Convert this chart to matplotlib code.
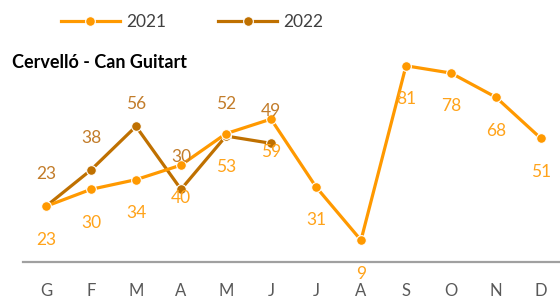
import matplotlib.pyplot as plt

months = ['G', 'F', 'M', 'A', 'M', 'J', 'J', 'A', 'S', 'O', 'N', 'D']
v2021 = [23, 30, 34, 40, 53, 59, 31, 9, 81, 78, 68, 51]
v2022 = [23, 38, 56, 30, 52, 49]

c2021 = '#FF9900'
c2022 = '#BF7000'
t2021 = '#FFA31A'
t2022 = '#C27C2A'

plt.rcParams['font.family'] = ['Lato', 'DejaVu Sans']

fig = plt.figure(figsize=(5.6, 3.0), dpi=100)
ax = fig.add_axes([23 / 560, 38 / 300, 537 / 560, 218 / 300])

x21 = list(range(len(v2021)))
x22 = list(range(len(v2022)))

ax.plot(x21, v2021, color=c2021, lw=2.3, marker='o', ms=7,
        mec='white', mew=0.8, label='2021', zorder=3)
ax.plot(x22, v2022, color=c2022, lw=2.3, marker='o', ms=7,
        mec='white', mew=0.8, label='2022', zorder=2)

for x, v in zip(x21, v2021):
    ax.annotate(str(v), (x, v), xytext=(0, -24), textcoords='offset points',
                ha='center', va='center', color=t2021, fontsize=12.5)
for x, v in zip(x22, v2022):
    # the 56 label sits a bit closer to its point in the original
    dy = 16 if v == max(v2022) else 23
    ax.annotate(str(v), (x, v), xytext=(0, dy), textcoords='offset points',
                ha='center', va='center', color=t2022, fontsize=12.5)

ax.set_xlim(-23 / 45, 11 + 19 / 45)
ax.set_ylim(0, 90)
ax.set_xticks(x21)
ax.set_xticklabels(months, color='#595959', fontsize=12)
ax.tick_params(axis='x', length=0, pad=15)
ax.set_yticks([])
for s in ['top', 'right', 'left']:
    ax.spines[s].set_visible(False)
ax.spines['bottom'].set_color('#A0A0A0')
ax.spines['bottom'].set_linewidth(1.6)
ax.patch.set_alpha(0)

fig.legend(loc='center', bbox_to_anchor=(0.343, 1 - 22 / 300), ncol=2,
           frameon=False, fontsize=12.5, handlelength=3.4, columnspacing=3.0,
           handletextpad=0.35, labelcolor='#404040')

fig.text(12 / 560, 1 - 63 / 300, 'Cervelló - Can Guitart', fontsize=13,
         fontweight='bold', va='center', ha='left', color='black')

fig.savefig('out.png', dpi=100)
